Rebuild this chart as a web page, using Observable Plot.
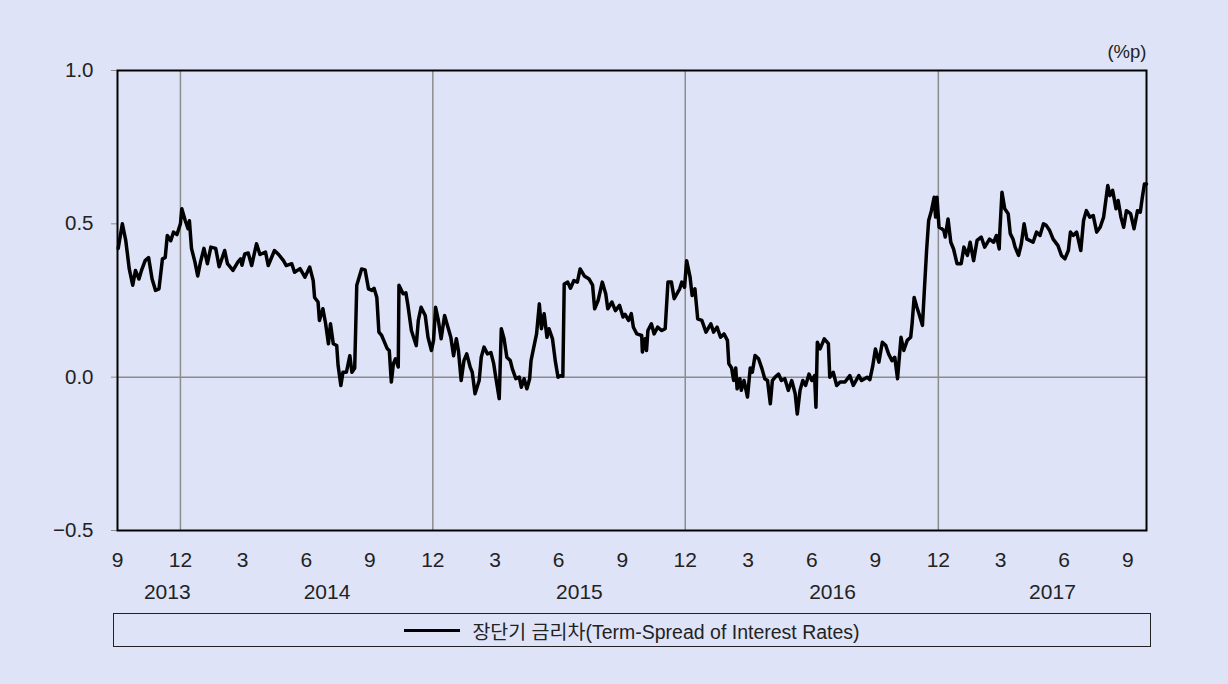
<!DOCTYPE html>
<html>
<head>
<meta charset="utf-8">
<script src="https://cdn.jsdelivr.net/npm/d3@7"></script>
<script src="https://cdn.jsdelivr.net/npm/@observablehq/plot@0.6"></script>
<style>
html, body { margin: 0; padding: 0; background: #dfe3f8; }
#wrap { position: relative; width: 1228px; height: 684px; background: #dfe3f8; font-family: "Liberation Sans", Arial, sans-serif; }
#chart { position: absolute; left: 0; top: 0; }
#legend { position: absolute; left: 113px; top: 613px; width: 1036px; height: 32px; border: 1.5px solid #222;
  display: flex; align-items: center; justify-content: center; }
#legend .key { display: inline-block; width: 56px; height: 3px; background: #000; margin-right: 12px; }
#legend .lbl { font-family: "Liberation Sans", "Noto Sans CJK KR", sans-serif; font-size: 19.5px; color: #222; }
</style>
</head>
<body>
<div id="wrap">
  <div id="chart"></div>
  <div id="legend"></div>
</div>
<script>
// ---- Data: term spread of interest rates (%p) ----
const obs2013 = [
["2013-09-02",0.42],["2013-09-08",0.50],["2013-09-13",0.445],["2013-09-18",0.353],["2013-09-23",0.30],["2013-09-27",0.348],
["2013-10-02",0.32],["2013-10-06",0.35],["2013-10-11",0.38],["2013-10-16",0.39],["2013-10-21",0.32],["2013-10-26",0.283],["2013-10-31",0.288],
["2013-11-05",0.386],["2013-11-09",0.39],["2013-11-12",0.462],["2013-11-17",0.445],["2013-11-21",0.473],["2013-11-26",0.465],
["2013-12-01",0.50],["2013-12-03",0.549],["2013-12-08",0.51],["2013-12-12",0.484],["2013-12-14",0.51],["2013-12-17",0.42],["2013-12-22",0.375],["2013-12-26",0.33],["2013-12-30",0.375]
];
const obs2014 = [
["2014-01-04",0.42],["2014-01-09",0.37],["2014-01-14",0.424],["2014-01-21",0.42],["2014-01-26",0.36],
["2014-02-03",0.413],["2014-02-07",0.37],["2014-02-15",0.348],["2014-02-22",0.375],["2014-02-26",0.386],["2014-02-28",0.365],
["2014-03-04",0.402],["2014-03-09",0.405],["2014-03-14",0.364],["2014-03-21",0.435],["2014-03-26",0.40],
["2014-04-03",0.408],["2014-04-07",0.364],["2014-04-16",0.413],["2014-04-22",0.40],["2014-04-29",0.38],
["2014-05-03",0.364],["2014-05-11",0.37],["2014-05-15",0.342],["2014-05-23",0.354],["2014-05-30",0.326],
["2014-06-06",0.359],["2014-06-11",0.315],["2014-06-13",0.26],["2014-06-18",0.245],["2014-06-20",0.185],["2014-06-25",0.223],["2014-06-29",0.174],
["2014-07-03",0.109],["2014-07-06",0.174],["2014-07-10",0.109],["2014-07-15",0.103],["2014-07-17",0.038],["2014-07-21",-0.027],["2014-07-24",0.016],["2014-07-29",0.016],
["2014-08-03",0.07],["2014-08-06",0.016],["2014-08-10",0.03],["2014-08-13",0.30],["2014-08-20",0.353],["2014-08-25",0.35],["2014-08-30",0.288],
["2014-09-04",0.283],["2014-09-07",0.29],["2014-09-11",0.26],["2014-09-14",0.147],["2014-09-18",0.136],["2014-09-21",0.12],["2014-09-26",0.093],["2014-09-29",0.087],
["2014-10-02",-0.016],["2014-10-05",0.044],["2014-10-08",0.06],["2014-10-12",0.033],["2014-10-13",0.30],["2014-10-19",0.272],["2014-10-23",0.275],["2014-10-26",0.234],["2014-10-31",0.152],
["2014-11-07",0.103],["2014-11-10",0.185],["2014-11-14",0.228],["2014-11-20",0.201],["2014-11-24",0.13],["2014-11-29",0.087],
["2014-12-02",0.12],["2014-12-05",0.228],["2014-12-09",0.185],["2014-12-13",0.125],["2014-12-18",0.201],["2014-12-22",0.169],["2014-12-27",0.13],["2014-12-31",0.07]
];
const obs2015 = [
["2015-01-04",0.125],["2015-01-07",0.087],["2015-01-11",-0.011],["2015-01-15",0.054],["2015-01-19",0.076],["2015-01-24",0.033],["2015-01-27",0.016],["2015-01-31",-0.054],
["2015-02-06",-0.011],["2015-02-09",0.065],["2015-02-13",0.098],["2015-02-18",0.076],["2015-02-23",0.08],["2015-02-27",0.044],
["2015-03-02",0],["2015-03-07",-0.07],["2015-03-10",0.158],["2015-03-14",0.125],["2015-03-18",0.065],["2015-03-23",0.054],["2015-03-26",0.027],["2015-03-31",-0.005],
["2015-04-05",0],["2015-04-08",-0.033],["2015-04-12",-0.005],["2015-04-16",-0.038],["2015-04-20",-0.005],["2015-04-22",0.054],["2015-04-26",0.098],["2015-04-30",0.141],
["2015-05-04",0.239],["2015-05-07",0.158],["2015-05-11",0.207],["2015-05-15",0.13],["2015-05-18",0.158],["2015-05-23",0.125],["2015-05-27",0.054],["2015-05-31",0],
["2015-06-04",0.005],["2015-06-07",0.003],["2015-06-09",0.304],["2015-06-14",0.31],["2015-06-18",0.29],["2015-06-23",0.315],["2015-06-28",0.31],
["2015-07-02",0.353],["2015-07-08",0.33],["2015-07-15",0.32],["2015-07-20",0.30],["2015-07-23",0.223],["2015-07-28",0.25],
["2015-08-03",0.31],["2015-08-08",0.272],["2015-08-11",0.223],["2015-08-17",0.245],["2015-08-22",0.217],["2015-08-28",0.234],
["2015-09-02",0.196],["2015-09-05",0.205],["2015-09-10",0.185],["2015-09-14",0.207],["2015-09-17",0.163],["2015-09-22",0.141],["2015-09-29",0.136],["2015-09-30",0.082],
["2015-10-04",0.125],["2015-10-06",0.087],["2015-10-08",0.152],["2015-10-13",0.174],["2015-10-17",0.141],["2015-10-22",0.163],["2015-10-28",0.152],
["2015-11-02",0.158],["2015-11-06",0.31],["2015-11-11",0.31],["2015-11-15",0.256],["2015-11-19",0.272],["2015-11-23",0.288],["2015-11-26",0.31],["2015-11-30",0.293],
["2015-12-03",0.38],["2015-12-08",0.326],["2015-12-11",0.266],["2015-12-15",0.288],["2015-12-19",0.19],["2015-12-25",0.185],["2015-12-31",0.147]
];
const obs2016 = [
["2016-01-07",0.174],["2016-01-11",0.147],["2016-01-16",0.163],["2016-01-21",0.13],["2016-01-26",0.141],["2016-01-31",0.12],
["2016-02-02",0.044],["2016-02-06",0.03],["2016-02-09",-0.011],["2016-02-12",0.03],["2016-02-14",-0.038],["2016-02-18",-0.005],["2016-02-20",-0.043],["2016-02-24",-0.011],["2016-02-29",-0.065],
["2016-03-04",0.03],["2016-03-07",0.016],["2016-03-11",0.071],["2016-03-16",0.06],["2016-03-21",0.027],["2016-03-25",-0.005],["2016-03-29",-0.011],
["2016-04-02",-0.087],["2016-04-05",-0.011],["2016-04-09",0],["2016-04-14",0.01],["2016-04-18",-0.011],["2016-04-23",-0.005],["2016-04-28",-0.043],
["2016-05-03",-0.011],["2016-05-08",-0.054],["2016-05-11",-0.12],["2016-05-15",-0.043],["2016-05-19",-0.011],["2016-05-23",-0.027],["2016-05-28",0.01],
["2016-06-01",-0.011],["2016-06-05",0.005],["2016-06-07",-0.098],["2016-06-09",0.114],["2016-06-13",0.092],["2016-06-19",0.125],["2016-06-25",0.109],["2016-06-27",0],
["2016-07-02",0.016],["2016-07-07",-0.027],["2016-07-12",-0.016],["2016-07-19",-0.016],["2016-07-26",0.005],["2016-07-31",-0.027],
["2016-08-08",0.005],["2016-08-12",-0.011],["2016-08-20",0],["2016-08-24",-0.008],["2016-08-28",0.035],
["2016-09-01",0.092],["2016-09-06",0.049],["2016-09-11",0.114],["2016-09-16",0.103],["2016-09-20",0.076],["2016-09-25",0.054],["2016-09-29",0.065],
["2016-10-03",-0.005],["2016-10-08",0.13],["2016-10-12",0.087],["2016-10-17",0.12],["2016-10-22",0.13],["2016-10-24",0.174],["2016-10-27",0.26],["2016-10-31",0.228],
["2016-11-03",0.207],["2016-11-08",0.169],["2016-11-11",0.293],["2016-11-14",0.413],["2016-11-17",0.511],["2016-11-21",0.543],["2016-11-25",0.587],["2016-11-27",0.522],["2016-11-29",0.587],
["2016-12-02",0.489],["2016-12-06",0.484],["2016-12-09",0.478],["2016-12-11",0.457],["2016-12-15",0.516],["2016-12-19",0.44],["2016-12-23",0.418],["2016-12-28",0.37]
];
const obs2017 = [
["2017-01-03",0.37],["2017-01-07",0.424],["2017-01-12",0.397],["2017-01-16",0.44],["2017-01-21",0.38],["2017-01-26",0.446],
["2017-02-01",0.457],["2017-02-06",0.424],["2017-02-13",0.45],["2017-02-19",0.44],["2017-02-23",0.462],["2017-02-27",0.418],["2017-02-28",0.478],
["2017-03-03",0.603],["2017-03-07",0.549],["2017-03-12",0.533],["2017-03-15",0.468],["2017-03-19",0.45],["2017-03-22",0.424],["2017-03-27",0.397],["2017-03-31",0.435],
["2017-04-04",0.50],["2017-04-08",0.45],["2017-04-12",0.446],["2017-04-17",0.44],["2017-04-22",0.473],["2017-04-27",0.462],
["2017-05-02",0.50],["2017-05-06",0.495],["2017-05-11",0.478],["2017-05-16",0.45],["2017-05-23",0.429],["2017-05-28",0.397],
["2017-06-02",0.386],["2017-06-07",0.413],["2017-06-10",0.473],["2017-06-14",0.462],["2017-06-19",0.473],["2017-06-25",0.413],["2017-06-29",0.511],
["2017-07-03",0.543],["2017-07-08",0.522],["2017-07-13",0.527],["2017-07-18",0.473],["2017-07-23",0.489],["2017-07-28",0.522],
["2017-08-03",0.625],["2017-08-06",0.592],["2017-08-10",0.609],["2017-08-15",0.549],["2017-08-18",0.576],["2017-08-22",0.522],["2017-08-26",0.489],["2017-08-30",0.543],
["2017-09-05",0.533],["2017-09-10",0.484],["2017-09-15",0.543],["2017-09-19",0.538],["2017-09-22",0.587],["2017-09-25",0.63],["2017-09-28",0.63]
];

const xDomain = ["2013-09-01", "2017-09-28"];
const yTicks = [-0.5, 0, 0.5, 1.0];
const monthTicks = ["2013-09-01","2013-12-01","2014-03-01","2014-06-01","2014-09-01","2014-12-01",
  "2015-03-01","2015-06-01","2015-09-01","2015-12-01","2016-03-01","2016-06-01","2016-09-01","2016-12-01",
  "2017-03-01","2017-06-01","2017-09-01"];
const yearLabelDates = ["2013-11-12","2014-07-01","2015-07-01","2016-07-01","2017-05-15"];
const gridDates = ["2013-12-01","2014-12-01","2015-12-01","2016-12-01"];
const unitLabel = "(%p)";
const seriesName = "장단기 금리차(Term-Spread of Interest Rates)";

const parse = d3.utcParse("%Y-%m-%d");
const data = [...obs2013, ...obs2014, ...obs2015, ...obs2016, ...obs2017]
  .map(([d, v]) => ({date: parse(d), value: v}));

const chart = Plot.plot({
  width: 1228,
  height: 610,
  marginLeft: 117,
  marginRight: 82,
  marginTop: 70,
  marginBottom: 80,
  style: {background: "transparent", fontFamily: "'Liberation Sans', Arial, sans-serif", overflow: "visible"},
  x: {type: "utc", domain: xDomain.map(parse), label: null},
  y: {domain: [-0.5, 1.0], label: null},
  marks: [
    Plot.ruleX(gridDates.map(parse), {stroke: "#8c8c8c", strokeWidth: 1.5}),
    Plot.ruleY([0], {stroke: "#8c8c8c", strokeWidth: 1.5}),
    Plot.axisY({ticks: yTicks, tickFormat: d3.format(".1f"), tickSize: 6, tickPadding: 18, label: null,
      stroke: "#8c8c8c", fill: "#222", fontSize: 20.5}),
    Plot.axisX({ticks: monthTicks.map(parse), tickFormat: d => String(d.getUTCMonth() + 1), label: null,
      tickSize: 0, tickPadding: 22, fill: "#222", fontSize: 21}),
    Plot.axisX({ticks: yearLabelDates.map(parse), tickFormat: d => String(d.getUTCFullYear()), label: null,
      tickSize: 0, tickPadding: 54, fill: "#222", fontSize: 21}),
    Plot.lineY(data, {x: "date", y: "value", stroke: "#000", strokeWidth: 3.5, strokeLinejoin: "round"}),
    Plot.frame({stroke: "#000", strokeWidth: 2}),
    Plot.text([unitLabel], {frameAnchor: "top-right", textAnchor: "end", lineAnchor: "middle", dy: -18,
      fontSize: 18.5, fill: "#222"})
  ]
});
document.getElementById("chart").appendChild(chart);

const legend = document.getElementById("legend");
const key = document.createElement("span");
key.className = "key";
const lbl = document.createElement("span");
lbl.className = "lbl";
lbl.textContent = seriesName;
legend.appendChild(key);
legend.appendChild(lbl);
</script>
</body>
</html>
